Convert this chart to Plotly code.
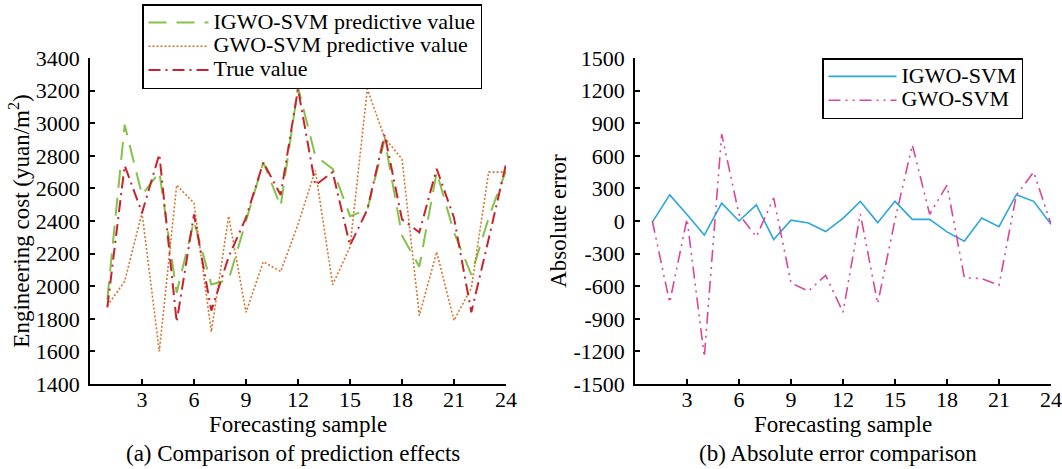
import plotly.graph_objects as go

samples = list(range(1, 25))

igwo_pred = [1920, 2990, 2560, 2700, 1960, 2400, 2010, 2040, 2400, 2760, 2490, 3220,
             2800, 2720, 2430, 2470, 2900, 2310, 2120, 2700, 2330, 2070, 2420, 2710]
gwo_pred = [1880, 2030, 2450, 1600, 2620, 2510, 1720, 2430, 1840, 2150, 2090, 2380,
            2710, 2010, 2240, 3210, 2910, 2780, 1820, 2210, 1790, 1990, 2700, 2700]
true_val = [1870, 2740, 2450, 2810, 1780, 2440, 1850, 2180, 2420, 2760, 2560, 3210,
            2620, 2700, 2250, 2470, 2930, 2410, 2330, 2720, 2420, 1840, 2290, 2750]

igwo_err = [-10, 240, 60, -130, 165, 0, 148, -170, 8, -18, -97, 25,
            181, -15, 181, 15, 15, -100, -187, 28, -52, 242, 181, -31]
gwo_err = [0, -750, 20, -1250, 800, 60, -145, 212, -570, -645, -500, -840,
           65, -760, 10, 700, 62, 330, -522, -530, -590, 238, 450, -28]

x_ticks = [3, 6, 9, 12, 15, 18, 21, 24]
y1_ticks = [1400, 1600, 1800, 2000, 2200, 2400, 2600, 2800, 3000, 3200, 3400]
y2_ticks = [-1500, -1200, -900, -600, -300, 0, 300, 600, 900, 1200, 1500]
y2_labels = [str(v) for v in y2_ticks]

FONT = "Liberation Serif"
FS = 22
TFS = 23
W, H = 1062, 469


def big(name, size=22):
    return '<span style="font-size:%dpx">%s</span>' % (size, name)


fig = go.Figure()

fig.add_trace(go.Scatter(x=samples, y=igwo_pred, mode="lines", name=big("IGWO-SVM predictive value"),
                         line=dict(color="#84C24A", width=2, dash="18px,10px"),
                         xaxis="x", yaxis="y", legend="legend"))
fig.add_trace(go.Scatter(x=samples, y=gwo_pred, mode="lines", name=big("GWO-SVM predictive value"),
                         line=dict(color="#D8752C", width=1.6, dash="2px,2px"),
                         xaxis="x", yaxis="y", legend="legend"))
fig.add_trace(go.Scatter(x=samples, y=true_val, mode="lines", name=big("True value"),
                         line=dict(color="#C8232C", width=2, dash="12px,5px,2px,5px"),
                         xaxis="x", yaxis="y", legend="legend"))

fig.add_trace(go.Scatter(x=samples, y=igwo_err, mode="lines", name=big("IGWO-SVM"),
                         line=dict(color="#2BA6DE", width=1.6),
                         xaxis="x2", yaxis="y2", legend="legend2"))
fig.add_trace(go.Scatter(x=samples, y=gwo_err, mode="lines", name=big("GWO-SVM"),
                         line=dict(color="#D9479A", width=1.6, dash="12px,5px,2px,5px,2px,5px"),
                         xaxis="x2", yaxis="y2", legend="legend2"))

ydom = [(H - 384) / H, (H - 58) / H]
axis_common = dict(showline=True, linecolor="black", linewidth=1.5, ticks="inside",
                   ticklen=5, tickwidth=1.5, tickcolor="black", showgrid=False, zeroline=False,
                   automargin=False,
                   tickfont=dict(family=FONT, size=FS, color="black"))

fig.update_layout(
    width=W, height=H,
    margin=dict(l=0, r=0, t=0, b=0, autoexpand=False),
    paper_bgcolor="white", plot_bgcolor="white",
    font=dict(family=FONT, size=FS, color="black"),
    xaxis=dict(domain=[90 / W, 506 / W], range=[0, 24], tickvals=x_ticks, anchor="y",
               ticklabelstandoff=-5,
               title=dict(text="Forecasting sample", standoff=0, font=dict(family=FONT, size=TFS)),
               **axis_common),
    yaxis=dict(domain=ydom, range=[1400, 3400], tickvals=y1_ticks, anchor="x",
               title=dict(text="Engineering cost (yuan/m<sup>2</sup>)", standoff=0,
                          font=dict(family=FONT, size=TFS)),
               ticklabelstandoff=4, **axis_common),
    xaxis2=dict(domain=[635 / W, 1051 / W], range=[0, 24], tickvals=x_ticks, anchor="y2",
                ticklabelstandoff=-5,
                title=dict(text="Forecasting sample", standoff=0, font=dict(family=FONT, size=TFS)),
                **axis_common),
    yaxis2=dict(domain=ydom, range=[-1500, 1500], tickvals=y2_ticks, ticktext=y2_labels, anchor="x2",
                title=dict(text="Absolute error", standoff=0, font=dict(family=FONT, size=TFS)),
                ticklabelstandoff=4, **axis_common),
    legend=dict(x=142 / W, y=1 - 4 / H, xanchor="left", yanchor="top",
                bordercolor="black", borderwidth=1.5, bgcolor="white",
                font=dict(family=FONT, size=16), tracegroupgap=0,
                itemwidth=60),
    legend2=dict(x=822 / W, y=1 - 58 / H, xanchor="left", yanchor="top",
                 bordercolor="black", borderwidth=1.5, bgcolor="white",
                 font=dict(family=FONT, size=16), itemwidth=68),
    showlegend=True,
    annotations=[
        dict(text="(a) Comparison of prediction effects", x=293 / W, y=1 - 453 / H,
             xref="paper", yref="paper", showarrow=False, xanchor="center", yanchor="middle",
             font=dict(family=FONT, size=TFS)),
        dict(text="(b) Absolute error comparison", x=838 / W, y=1 - 453 / H,
             xref="paper", yref="paper", showarrow=False, xanchor="center", yanchor="middle",
             font=dict(family=FONT, size=TFS)),
    ],
)

fig.write_html("out.html")
